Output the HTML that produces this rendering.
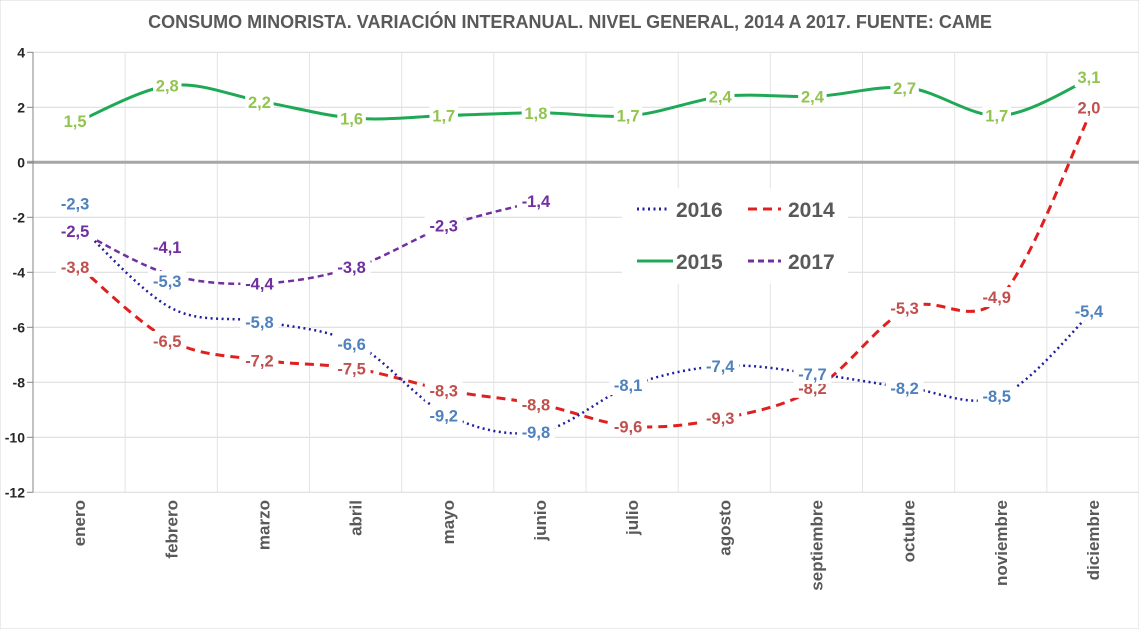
<!DOCTYPE html>
<html><head><meta charset="utf-8"><style>
body{margin:0;background:#fff;}
svg{display:block;font-family:"Liberation Sans",sans-serif;}
</style></head><body>
<svg id="chart" width="1139" height="629" viewBox="0 0 1139 629">
<rect x="0" y="0" width="1139" height="629" fill="#fff" stroke="#d9d9d9"/>
<text x="570" y="28" text-anchor="middle" font-size="18" font-weight="bold" fill="#595959">CONSUMO MINORISTA. VARIACIÓN INTERANUAL. NIVEL GENERAL, 2014 A 2017. FUENTE: CAME</text>
<g id="grid"></g><g id="series"></g><g id="labels"></g><g id="axes"></g>
<g>
<rect x="622" y="188" width="226" height="96" fill="#fff"/>
<g><line x1="637" y1="209" x2="670" y2="209" stroke="#1f1fa0" stroke-width="3" stroke-dasharray="2,3.5"/><text x="676" y="217" font-size="21" font-weight="bold" fill="#595959">2016</text></g>
<g><line x1="748" y1="209" x2="781" y2="209" stroke="#e02020" stroke-width="3" stroke-dasharray="9,6"/><text x="788" y="217" font-size="21" font-weight="bold" fill="#595959">2014</text></g>
<g><line x1="637" y1="261" x2="673" y2="261" stroke="#1fa855" stroke-width="3"/><text x="676" y="269" font-size="21" font-weight="bold" fill="#595959">2015</text></g>
<g><line x1="748" y1="261" x2="781" y2="261" stroke="#7030a0" stroke-width="3" stroke-dasharray="6,4"/><text x="788" y="269" font-size="21" font-weight="bold" fill="#595959">2017</text></g>
</g>
</svg>
<script>
const months=["enero","febrero","marzo","abril","mayo","junio","julio","agosto","septiembre","octubre","noviembre","diciembre"];
const yTicks=[4,2,0,-2,-4,-6,-8,-10,-12];
const s2014=[-3.8,-6.5,-7.2,-7.5,-8.3,-8.8,-9.6,-9.3,-8.2,-5.3,-4.9,2.0];
const s2015=[1.5,2.8,2.2,1.6,1.7,1.8,1.7,2.4,2.4,2.7,1.7,3.1];
const s2016=[-2.3,-5.3,-5.8,-6.6,-9.2,-9.8,-8.1,-7.4,-7.7,-8.2,-8.5,-5.4];
const s2017=[-2.5,-4.1,-4.4,-3.8,-2.3,-1.4];
const NS="http://www.w3.org/2000/svg";
const L=33,R=1139,T=52.3,B=492.3,yMin=-12,yMax=4;
const cw=(R-L)/months.length;
const x=i=>L+cw*(i+0.5);
const y=v=>T+(yMax-v)/(yMax-yMin)*(B-T);
function mk(tag,attrs,parent){const e=document.createElementNS(NS,tag);for(const k in attrs)e.setAttribute(k,attrs[k]);parent.appendChild(e);return e;}
const grid=document.getElementById('grid'),axes=document.getElementById('axes'),ser=document.getElementById('series'),lab=document.getElementById('labels');
yTicks.forEach(t=>{
 if(t!==0){const g=mk('line',{x1:L,x2:R,y1:y(t),y2:y(t),stroke:'#d9d9d9','stroke-width':1},grid);
 
 }
 const tk=mk('line',{x1:L-6,x2:L,y1:y(t),y2:y(t),stroke:'#868686'},axes);
 
 
 const tx=mk('text',{x:L-8,y:y(t)+5,'text-anchor':'end','font-size':14,'font-weight':'bold',fill:'#262626'},axes);
 tx.textContent=t;
 
 
});
for(let i=1;i<months.length;i++){const g=mk('line',{x1:L+cw*i,x2:L+cw*i,y1:T,y2:B,stroke:'#e3e3e3'},grid);
 
 }
const ya=mk('line',{x1:L,x2:L,y1:T,y2:B,stroke:'#868686'},axes);


const za=mk('line',{x1:L-6,x2:R,y1:y(0),y2:y(0),stroke:'#a6a6a6','stroke-width':3},grid);


months.forEach((m,i)=>{
 const t=mk('text',{transform:`translate(${x(i)+6},500) rotate(-90)`,'text-anchor':'end','font-size':17,'font-weight':'bold',fill:'#595959'},axes);
 t.textContent=m;
 
 
});
function pathFor(vals){
 const p=vals.map((v,i)=>[x(i),y(v)]);let d=`M${p[0][0]},${p[0][1]}`;
 for(let i=0;i<p.length-1;i++){const p0=p[i-1]||p[i],p1=p[i],p2=p[i+1],p3=p[i+2]||p2;
  const c1=[p1[0]+(p2[0]-p0[0])/6,p1[1]+(p2[1]-p0[1])/6],c2=[p2[0]-(p3[0]-p1[0])/6,p2[1]-(p3[1]-p1[1])/6];
  d+=` C${c1[0]},${c1[1]} ${c2[0]},${c2[1]} ${p2[0]},${p2[1]}`;}
 return d;}
const defs=[
 {name:'2015',vals:s2015,stroke:'#1fa855',dash:'none',lc:'#92c450',w:3},
 {name:'2014',vals:s2014,stroke:'#e02020',dash:'9,6',lc:'#c0504d',w:3},
 {name:'2016',vals:s2016,stroke:'#1f1fa0',dash:'2,3.5',lc:'#4f81bd',w:2.5},
 {name:'2017',vals:s2017,stroke:'#7030a0',dash:'6,4',lc:'#7030a0',w:2.5}];
defs.forEach(s=>{
 const p=mk('path',{d:pathFor(s.vals),fill:'none',stroke:s.stroke,'stroke-width':s.w,'stroke-dasharray':s.dash},ser);
 
 
});
defs.forEach(s=>{
 s.vals.forEach((v,i)=>{
  let dy=0,dx=-4;
  if(s.name==='2016'&&i===0)dy=-22;
  if(s.name==='2016'&&i===1)dy=-27;
  if(s.name==='2017'&&i===1)dy=-28;
  const txt=v.toFixed(1).replace('.',',');
  const w=txt.length*9.5;
  const bg=mk('rect',{x:x(i)+dx-w/2,y:y(v)+dy-10,width:w,height:20,fill:'#fff'},lab);
  
  
  const t=mk('text',{x:x(i)+dx,y:y(v)+dy+6,'text-anchor':'middle','font-size':16.5,'font-weight':'bold',fill:s.lc},lab);
  t.textContent=txt;
  
  
 });
});
</script>
</body></html>
